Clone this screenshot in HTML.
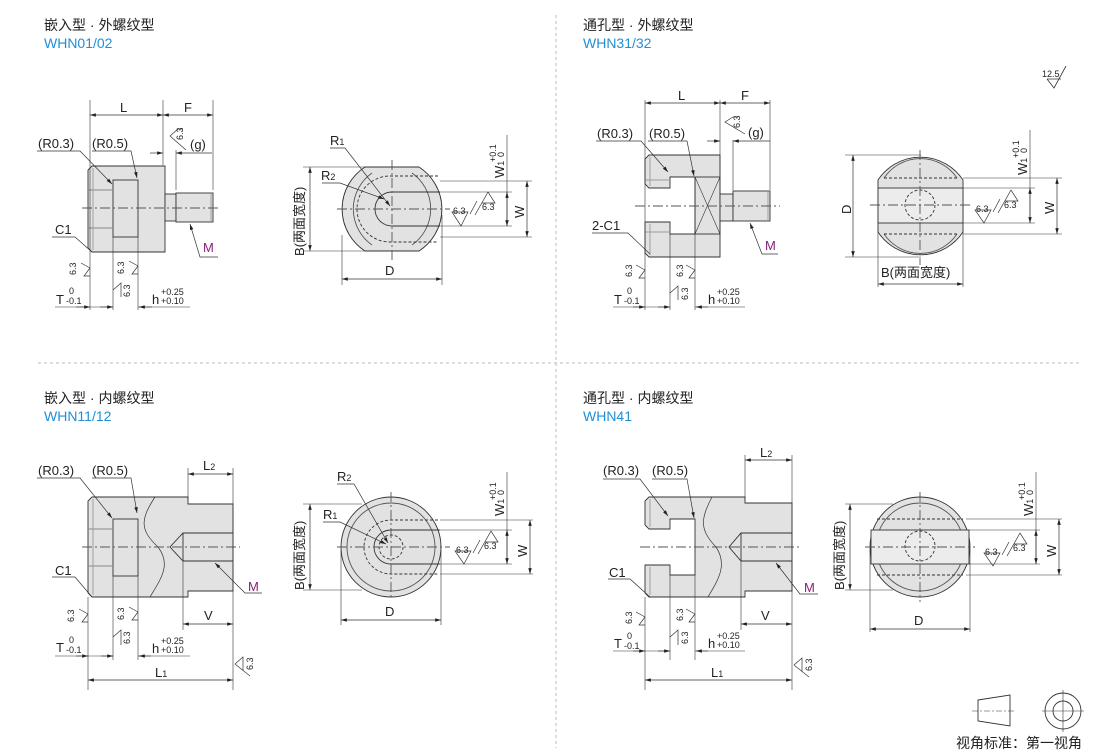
<!DOCTYPE html>
<html><head><meta charset="utf-8"><style>
html,body{margin:0;padding:0;background:#fff;}
svg{display:block;}
text{font-family:"Liberation Sans","Noto Sans CJK SC",sans-serif;fill:#222;}
.t{font-size:14px;}
.b{font-size:14px;fill:#1f8fd6;}
.s{font-size:9px;}
.d{font-size:13px;}
.m{font-size:13px;fill:#8b1e7a;}
</style></head><body>
<svg width="1110" height="756" viewBox="0 0 1110 756" xmlns="http://www.w3.org/2000/svg">
<defs>
<marker id="a" viewBox="0 0 10 6" refX="10" refY="3" markerWidth="9" markerHeight="5" orient="auto-start-reverse"><path d="M0,0L10,3L0,6z" fill="#222"/></marker>
</defs>
<g stroke="#bbb" stroke-dasharray="3,3" stroke-width="1">
<line x1="556" y1="15" x2="556" y2="748"/>
<line x1="38" y1="363" x2="1080" y2="363"/>
</g>
<text class="t" x="44" y="30">嵌入型 · 外螺纹型</text><text class="b" x="44" y="48">WHN01/02</text>
<text class="t" x="583" y="30">通孔型 · 外螺纹型</text><text class="b" x="583" y="48">WHN31/32</text>
<text class="t" x="44" y="403">嵌入型 · 内螺纹型</text><text class="b" x="44" y="421">WHN11/12</text>
<text class="t" x="583" y="403">通孔型 · 内螺纹型</text><text class="b" x="583" y="421">WHN41</text>

<!-- 12.5 symbol -->
<text class="s" x="1042" y="77">12.5</text>
<path d="M1047,79 L1054,88 L1066,66 M1047,79 H1061" stroke="#333" fill="none" stroke-width="0.8"/>

<g stroke="#333" stroke-width="0.9" fill="none">
<!-- ===== PART 1 top-left ===== -->
<path d="M92,166 H165 V252 H92 L88,248 V170 Z" fill="#e2e2e2"/>
<rect x="113" y="180" width="25" height="57" fill="#e2e2e2"/>
<line x1="88" y1="190" x2="113" y2="190" stroke="#888"/><line x1="88" y1="228" x2="113" y2="228" stroke="#888"/>
<line x1="93" y1="168" x2="93" y2="250" stroke="#999"/>
<rect x="165" y="194" width="11" height="27" fill="#e2e2e2"/>
<rect x="176" y="193" width="37" height="29" fill="#e2e2e2"/>
<line x1="211" y1="193" x2="211" y2="222" stroke="#999"/>
<line x1="82" y1="208" x2="220" y2="208" stroke-dasharray="10,3,2,3" stroke="#555"/>
<!-- dims -->
<line x1="90" y1="100" x2="90" y2="310" stroke-width="0.6"/>
<line x1="163" y1="100" x2="163" y2="165" stroke-width="0.6"/>
<line x1="213" y1="100" x2="213" y2="190" stroke-width="0.6"/>
<line x1="176" y1="150" x2="176" y2="190" stroke-width="0.6"/>
<line x1="90" y1="115" x2="163" y2="115" marker-start="url(#a)" marker-end="url(#a)" stroke-width="0.7"/>
<line x1="163" y1="115" x2="213" y2="115" marker-start="url(#a)" marker-end="url(#a)" stroke-width="0.7"/>
<line x1="150" y1="153" x2="163" y2="153" marker-end="url(#a)" stroke-width="0.7"/>
<line x1="176" y1="153" x2="212" y2="153" marker-start="url(#a)" stroke-width="0.7"/>
<line x1="113" y1="237" x2="113" y2="310" stroke-width="0.6"/>
<line x1="138" y1="237" x2="138" y2="310" stroke-width="0.6"/>
<line x1="55" y1="307" x2="113" y2="307" stroke-width="0.6"/>
<line x1="76" y1="307" x2="90" y2="307" marker-end="url(#a)" stroke-width="0.7"/>
<line x1="100" y1="307" x2="113" y2="307" marker-end="url(#a)" stroke-width="0.7"/>
<line x1="138" y1="307" x2="190" y2="307" stroke-width="0.6"/>
<line x1="152" y1="307" x2="139" y2="307" marker-end="url(#a)" stroke-width="0.7"/>
<path d="M37,151 H80 L112,184" stroke-width="0.7" marker-end="url(#a)"/>
<path d="M92,151 H131 L137,178" stroke-width="0.7" marker-end="url(#a)"/>
<path d="M52,237 H75 L92,252" stroke-width="0.7"/>
<path d="M218,257 H200 L190,224" stroke-width="0.7" marker-end="url(#a)"/>
<!-- roughness -->
<path d="M178,129 L170,136 L186,150 M178,129 H183" stroke-width="0.7"/>
<path d="M90,268 L81,263 M90,268 L84,276 H90" stroke-width="0.7"/>
<path d="M138,266 L129,261 M138,266 L132,274 H138 M113,290 L121,283 V297" stroke-width="0.7"/>
</g>
<g class="s">
<text x="0" y="0" transform="translate(183,140) rotate(-90)">6.3</text>
<text x="0" y="0" transform="translate(76,275) rotate(-90)">6.3</text>
<text x="0" y="0" transform="translate(124,274) rotate(-90)">6.3</text>
<text x="0" y="0" transform="translate(130,297) rotate(-90)">6.3</text>
</g>
<text class="d" x="120" y="112">L</text><text class="d" x="184" y="112">F</text>
<text class="d" x="190" y="149">(g)</text>
<text class="d" x="38" y="148">(R0.3)</text><text class="d" x="92" y="148">(R0.5)</text>
<text class="d" x="55" y="234">C1</text><text class="m" x="203" y="252">M</text>
<text class="d" x="56" y="304">T</text><text class="s" x="69" y="294">0</text><text class="s" x="66" y="304">-0.1</text>
<text class="d" x="152" y="304">h</text><text class="s" x="161" y="295">+0.25</text><text class="s" x="161" y="304">+0.10</text>

<!-- ===== CIRCLE 1 top ===== -->
<g stroke="#333" stroke-width="0.9" fill="none">
<path d="M365,167 H419 A50,50 0 0 1 419,251 H365 A50,50 0 0 1 365,167 Z" fill="#e2e2e2"/>
<path d="M372,173 A44,44 0 0 0 372,245 M412,173 A44,44 0 0 1 412,245" stroke="#555"/>
<path d="M440,192 H392 A17,17 0 0 0 392,226 H440"/>
<path d="M438,176 H390 A33,33 0 0 0 390,242 H438" stroke-dasharray="3,2"/>
<line x1="337" y1="209" x2="450" y2="209" stroke-dasharray="10,3,2,3" stroke="#555"/>
<line x1="392" y1="160" x2="392" y2="262" stroke-dasharray="10,3,2,3" stroke="#555"/>
<line x1="342" y1="235" x2="342" y2="285" stroke-width="0.6"/>
<line x1="442" y1="215" x2="442" y2="285" stroke-width="0.6"/>
<line x1="342" y1="279" x2="442" y2="279" marker-start="url(#a)" marker-end="url(#a)" stroke-width="0.7"/>
<line x1="303" y1="167" x2="366" y2="167" stroke-width="0.6"/><line x1="303" y1="251" x2="366" y2="251" stroke-width="0.6"/>
<line x1="310" y1="167" x2="310" y2="251" marker-start="url(#a)" marker-end="url(#a)" stroke-width="0.7"/>
<path d="M330,148 H345 L390,206" stroke-width="0.7" marker-end="url(#a)"/>
<path d="M322,183 H340 L384,199" stroke-width="0.7" marker-end="url(#a)"/>
<line x1="440" y1="181" x2="532" y2="181" stroke-width="0.6"/><line x1="440" y1="237" x2="532" y2="237" stroke-width="0.6"/>
<line x1="440" y1="192" x2="512" y2="192" stroke-width="0.6"/><line x1="440" y1="226" x2="512" y2="226" stroke-width="0.6"/>
<line x1="507" y1="135" x2="507" y2="226" stroke-width="0.6"/>
<line x1="507" y1="192" x2="507" y2="226" marker-start="url(#a)" marker-end="url(#a)" stroke-width="0.7"/>
<line x1="527" y1="181" x2="527" y2="237" marker-start="url(#a)" marker-end="url(#a)" stroke-width="0.7"/>
<path d="M452,212 H468 L461,226 Z M470,214 L477,201 M475,215 L488,192 L495,203 H482" stroke-width="0.7"/>
</g>
<text class="s" x="453" y="214">6.3</text><text class="s" x="482" y="210">6.3</text>
<text class="d" x="385" y="275">D</text>
<text class="d" transform="translate(304,256) rotate(-90)">B(两面宽度)</text>
<text class="d" x="330" y="145">R<tspan font-size="9">1</tspan></text>
<text class="d" x="321" y="180">R<tspan font-size="9">2</tspan></text>
<text class="d" transform="translate(504,178) rotate(-90)">W<tspan font-size="9">1</tspan></text>
<text class="s" transform="translate(496,162) rotate(-90)">+0.1</text><text class="s" transform="translate(504,157) rotate(-90)">0</text>
<text class="d" transform="translate(524,218) rotate(-90)">W</text>

<!-- ===== PART 2 top-right ===== -->
<g stroke="#333" stroke-width="0.9" fill="none">
<path d="M649,155 H720 V257 H649 L645,253 V222 H670 V234 H695 V177 H670 V188 H649 L645,184 V159 Z" fill="#e2e2e2"/>
<line x1="650" y1="157" x2="650" y2="186" stroke="#999"/><line x1="650" y1="224" x2="650" y2="255" stroke="#999"/>
<line x1="645" y1="180" x2="670" y2="180" stroke="#999"/><line x1="645" y1="232" x2="670" y2="232" stroke="#999"/>
<rect x="695" y="177" width="25" height="57"/>
<path d="M695,177 L720,234 M720,177 L695,234" stroke-width="0.6"/>
<rect x="720" y="194" width="13" height="27" fill="#e2e2e2"/>
<rect x="733" y="191" width="37" height="30" fill="#e2e2e2"/>
<line x1="768" y1="191" x2="768" y2="221" stroke="#999"/>
<line x1="635" y1="206" x2="780" y2="206" stroke-dasharray="10,3,2,3" stroke="#555"/>
<line x1="645" y1="100" x2="645" y2="310" stroke-width="0.6"/>
<line x1="720" y1="100" x2="720" y2="175" stroke-width="0.6"/>
<line x1="770" y1="100" x2="770" y2="190" stroke-width="0.6"/>
<line x1="733" y1="140" x2="733" y2="190" stroke-width="0.6"/>
<line x1="645" y1="103" x2="720" y2="103" marker-start="url(#a)" marker-end="url(#a)" stroke-width="0.7"/>
<line x1="720" y1="103" x2="770" y2="103" marker-start="url(#a)" marker-end="url(#a)" stroke-width="0.7"/>
<line x1="707" y1="141" x2="720" y2="141" marker-end="url(#a)" stroke-width="0.7"/>
<line x1="733" y1="141" x2="770" y2="141" marker-start="url(#a)" stroke-width="0.7"/>
<line x1="670" y1="234" x2="670" y2="310" stroke-width="0.6"/>
<line x1="695" y1="234" x2="695" y2="310" stroke-width="0.6"/>
<line x1="613" y1="307" x2="670" y2="307" stroke-width="0.6"/>
<line x1="633" y1="307" x2="645" y2="307" marker-end="url(#a)" stroke-width="0.7"/>
<line x1="658" y1="307" x2="670" y2="307" marker-end="url(#a)" stroke-width="0.7"/>
<line x1="695" y1="307" x2="745" y2="307" stroke-width="0.6"/>
<line x1="708" y1="307" x2="696" y2="307" marker-end="url(#a)" stroke-width="0.7"/>
<path d="M596,141 H641 L668,172" stroke-width="0.7" marker-end="url(#a)"/>
<path d="M648,141 H687 L694,176" stroke-width="0.7" marker-end="url(#a)"/>
<path d="M592,233 H628 L650,254" stroke-width="0.7"/>
<path d="M778,254 H762 L750,223" stroke-width="0.7" marker-end="url(#a)"/>
<path d="M733,117 L725,122 L745,134 M733,117 H738" stroke-width="0.7"/>
<path d="M645,270 L636,265 M645,270 L639,278 H645" stroke-width="0.7"/>
<path d="M695,270 L686,265 M695,270 L689,278 H695 M670,293 L678,286 V300" stroke-width="0.7"/>
</g>
<g class="s">
<text transform="translate(740,128) rotate(-90)">6.3</text>
<text transform="translate(632,277) rotate(-90)">6.3</text>
<text transform="translate(683,277) rotate(-90)">6.3</text>
<text transform="translate(688,300) rotate(-90)">6.3</text>
</g>
<text class="d" x="678" y="100">L</text><text class="d" x="741" y="100">F</text>
<text class="d" x="748" y="137">(g)</text>
<text class="d" x="597" y="138">(R0.3)</text><text class="d" x="649" y="138">(R0.5)</text>
<text class="d" x="592" y="230">2-C1</text><text class="m" x="765" y="250">M</text>
<text class="d" x="614" y="304">T</text><text class="s" x="627" y="294">0</text><text class="s" x="624" y="304">-0.1</text>
<text class="d" x="708" y="304">h</text><text class="s" x="717" y="295">+0.25</text><text class="s" x="717" y="304">+0.10</text>

<!-- ===== CIRCLE 2 top ===== -->
<g stroke="#333" stroke-width="0.9" fill="none">
<path d="M878,180 A51,51 0 0 1 963,180 V232 A51,51 0 0 1 878,232 Z" fill="#e2e2e2"/>
<path d="M884,178 A44,44 0 0 1 957,178 M884,234 A44,44 0 0 0 957,234" stroke="#555"/>
<rect x="878" y="188" width="85" height="35" fill="#ececec"/>
<line x1="884" y1="178" x2="957" y2="178" stroke-dasharray="3,2"/><line x1="884" y1="234" x2="957" y2="234" stroke-dasharray="3,2"/>
<circle cx="920" cy="205" r="15" stroke-dasharray="3,2"/>
<line x1="870" y1="205" x2="970" y2="205" stroke-dasharray="10,3,2,3" stroke="#555"/>
<line x1="920" y1="150" x2="920" y2="265" stroke-dasharray="10,3,2,3" stroke="#555"/>
<line x1="845" y1="155" x2="921" y2="155" stroke-width="0.6"/><line x1="845" y1="257" x2="921" y2="257" stroke-width="0.6"/>
<line x1="853" y1="155" x2="853" y2="257" marker-start="url(#a)" marker-end="url(#a)" stroke-width="0.7"/>
<line x1="878" y1="230" x2="878" y2="287" stroke-width="0.6"/><line x1="963" y1="230" x2="963" y2="287" stroke-width="0.6"/>
<line x1="878" y1="284" x2="963" y2="284" marker-start="url(#a)" marker-end="url(#a)" stroke-width="0.7"/>
<line x1="963" y1="178" x2="1062" y2="178" stroke-width="0.6"/><line x1="963" y1="234" x2="1062" y2="234" stroke-width="0.6"/>
<line x1="963" y1="188" x2="1035" y2="188" stroke-width="0.6"/><line x1="963" y1="223" x2="1035" y2="223" stroke-width="0.6"/>
<line x1="1030" y1="130" x2="1030" y2="223" stroke-width="0.6"/>
<line x1="1030" y1="188" x2="1030" y2="223" marker-start="url(#a)" marker-end="url(#a)" stroke-width="0.7"/>
<line x1="1057" y1="178" x2="1057" y2="234" marker-start="url(#a)" marker-end="url(#a)" stroke-width="0.7"/>
<path d="M975,210 H991 L984,223 Z M993,212 L1000,199 M998,213 L1011,190 L1018,201 H1005" stroke-width="0.7"/>
</g>
<text class="s" x="976" y="212">6.3</text><text class="s" x="1004" y="208">6.3</text>
<text class="d" transform="translate(851,214) rotate(-90)">D</text>
<text class="d" x="881" y="277">B(两面宽度)</text>
<text class="d" transform="translate(1027,175) rotate(-90)">W<tspan font-size="9">1</tspan></text>
<text class="s" transform="translate(1019,158) rotate(-90)">+0.1</text><text class="s" transform="translate(1027,153) rotate(-90)">0</text>
<text class="d" transform="translate(1054,214) rotate(-90)">W</text>

<!-- ===== PART 3 bottom-left ===== -->
<g stroke="#333" stroke-width="0.9" fill="none">
<path d="M92,497 H188 V504 H233 V591 H188 V597 H92 L88,593 V501 Z" fill="#e2e2e2"/>
<rect x="113" y="519" width="25" height="57" fill="#e2e2e2"/>
<line x1="88" y1="529" x2="113" y2="529" stroke="#888"/><line x1="88" y1="566" x2="113" y2="566" stroke="#888"/>
<line x1="93" y1="499" x2="93" y2="595" stroke="#999"/>
<path d="M155,497 C140,520 140,530 158,547 C172,565 160,580 150,597" stroke-width="0.7"/>
<path d="M233,533 H183 L170,547 L183,561 H233 M183,533 V561" />
<line x1="82" y1="547" x2="240" y2="547" stroke-dasharray="10,3,2,3" stroke="#555"/>
<line x1="188" y1="468" x2="188" y2="500" stroke-width="0.6"/>
<line x1="233" y1="468" x2="233" y2="690" stroke-width="0.6"/>
<line x1="188" y1="474" x2="233" y2="474" marker-start="url(#a)" marker-end="url(#a)" stroke-width="0.7"/>
<line x1="183" y1="561" x2="183" y2="630" stroke-width="0.6"/>
<line x1="183" y1="624" x2="233" y2="624" marker-start="url(#a)" marker-end="url(#a)" stroke-width="0.7"/>
<line x1="88" y1="597" x2="88" y2="690" stroke-width="0.6"/>
<line x1="88" y1="680" x2="233" y2="680" marker-start="url(#a)" marker-end="url(#a)" stroke-width="0.7"/>
<line x1="113" y1="576" x2="113" y2="660" stroke-width="0.6"/>
<line x1="138" y1="576" x2="138" y2="660" stroke-width="0.6"/>
<line x1="55" y1="656" x2="113" y2="656" stroke-width="0.6"/>
<line x1="76" y1="656" x2="88" y2="656" marker-end="url(#a)" stroke-width="0.7"/>
<line x1="101" y1="656" x2="113" y2="656" marker-end="url(#a)" stroke-width="0.7"/>
<line x1="138" y1="656" x2="190" y2="656" stroke-width="0.6"/>
<line x1="151" y1="656" x2="139" y2="656" marker-end="url(#a)" stroke-width="0.7"/>
<path d="M37,478 H80 L112,518" stroke-width="0.7" marker-end="url(#a)"/>
<path d="M92,478 H131 L137,513" stroke-width="0.7" marker-end="url(#a)"/>
<path d="M52,577 H75 L92,597" stroke-width="0.7"/>
<path d="M262,593 H245 L215,563" stroke-width="0.7" marker-end="url(#a)"/>
<path d="M88,614 L79,609 M88,614 L82,622 H88" stroke-width="0.7"/>
<path d="M138,612 L129,607 M138,612 L132,620 H138 M113,637 L121,630 V645" stroke-width="0.7"/>
<path d="M235,664 L243,657 V671 M235,664 L250,676" stroke-width="0.7"/>
</g>
<g class="s">
<text transform="translate(74,622) rotate(-90)">6.3</text>
<text transform="translate(124,620) rotate(-90)">6.3</text>
<text transform="translate(130,644) rotate(-90)">6.3</text>
<text transform="translate(253,670) rotate(-90)">6.3</text>
</g>
<text class="d" x="203" y="470">L<tspan font-size="9">2</tspan></text>
<text class="d" x="204" y="620">V</text>
<text class="d" x="155" y="677">L<tspan font-size="9">1</tspan></text>
<text class="d" x="38" y="475">(R0.3)</text><text class="d" x="92" y="475">(R0.5)</text>
<text class="d" x="55" y="575">C1</text><text class="m" x="248" y="591">M</text>
<text class="d" x="56" y="652">T</text><text class="s" x="69" y="643">0</text><text class="s" x="66" y="653">-0.1</text>
<text class="d" x="152" y="653">h</text><text class="s" x="161" y="644">+0.25</text><text class="s" x="161" y="653">+0.10</text>

<!-- ===== CIRCLE 3 bottom ===== -->
<g stroke="#333" stroke-width="0.9" fill="none">
<circle cx="391" cy="547" r="50" fill="#e2e2e2"/>
<circle cx="391" cy="547" r="44" stroke="#555"/>
<path d="M440,530 H391 A17,17 0 0 0 391,564 H440"/>
<path d="M438,520 H391 A27,27 0 0 0 391,574 H438" stroke-dasharray="3,2"/>
<circle cx="391" cy="547" r="12" stroke-dasharray="3,2"/>
<line x1="337" y1="547" x2="450" y2="547" stroke-dasharray="10,3,2,3" stroke="#555"/>
<line x1="391" y1="492" x2="391" y2="600" stroke-dasharray="10,3,2,3" stroke="#555"/>
<line x1="341" y1="550" x2="341" y2="625" stroke-width="0.6"/><line x1="441" y1="550" x2="441" y2="625" stroke-width="0.6"/>
<line x1="341" y1="620" x2="441" y2="620" marker-start="url(#a)" marker-end="url(#a)" stroke-width="0.7"/>
<line x1="303" y1="504" x2="362" y2="504" stroke-width="0.6"/><line x1="303" y1="590" x2="362" y2="590" stroke-width="0.6"/>
<line x1="310" y1="504" x2="310" y2="590" marker-start="url(#a)" marker-end="url(#a)" stroke-width="0.7"/>
<path d="M337,484 H354 L388,543" stroke-width="0.7" marker-end="url(#a)"/>
<path d="M323,522 H340 L386,544" stroke-width="0.7" marker-end="url(#a)"/>
<line x1="440" y1="520" x2="533" y2="520" stroke-width="0.6"/><line x1="440" y1="574" x2="533" y2="574" stroke-width="0.6"/>
<line x1="440" y1="530" x2="512" y2="530" stroke-width="0.6"/><line x1="440" y1="564" x2="512" y2="564" stroke-width="0.6"/>
<line x1="507" y1="472" x2="507" y2="564" stroke-width="0.6"/>
<line x1="507" y1="530" x2="507" y2="564" marker-start="url(#a)" marker-end="url(#a)" stroke-width="0.7"/>
<line x1="530" y1="520" x2="530" y2="574" marker-start="url(#a)" marker-end="url(#a)" stroke-width="0.7"/>
<path d="M455,551 H471 L464,564 Z M473,553 L480,540 M478,554 L491,531 L498,542 H485" stroke-width="0.7"/>
</g>
<text class="s" x="456" y="553">6.3</text><text class="s" x="484" y="549">6.3</text>
<text class="d" x="385" y="616">D</text>
<text class="d" transform="translate(304,590) rotate(-90)">B(两面宽度)</text>
<text class="d" x="337" y="481">R<tspan font-size="9">2</tspan></text>
<text class="d" x="323" y="519">R<tspan font-size="9">1</tspan></text>
<text class="d" transform="translate(504,516) rotate(-90)">W<tspan font-size="9">1</tspan></text>
<text class="s" transform="translate(496,500) rotate(-90)">+0.1</text><text class="s" transform="translate(504,495) rotate(-90)">0</text>
<text class="d" transform="translate(527,557) rotate(-90)">W</text>

<!-- ===== PART 4 bottom-right ===== -->
<g stroke="#333" stroke-width="0.9" fill="none">
<path d="M649,497 H745 V503 H792 V591 H745 V597 H649 L645,593 V565 H670 V575 H695 V519 H670 V529 H649 L645,525 V501 Z" fill="#e2e2e2"/>
<line x1="650" y1="499" x2="650" y2="527" stroke="#999"/><line x1="650" y1="567" x2="650" y2="595" stroke="#999"/>
<path d="M712,497 C700,520 700,530 716,547 C728,565 718,580 708,597" stroke-width="0.7"/>
<path d="M792,533 H741 L729,547 L741,561 H792 M741,533 V561"/>
<line x1="640" y1="547" x2="800" y2="547" stroke-dasharray="10,3,2,3" stroke="#555"/>
<line x1="745" y1="455" x2="745" y2="500" stroke-width="0.6"/>
<line x1="792" y1="455" x2="792" y2="690" stroke-width="0.6"/>
<line x1="745" y1="460" x2="792" y2="460" marker-start="url(#a)" marker-end="url(#a)" stroke-width="0.7"/>
<line x1="741" y1="561" x2="741" y2="630" stroke-width="0.6"/>
<line x1="741" y1="624" x2="792" y2="624" marker-start="url(#a)" marker-end="url(#a)" stroke-width="0.7"/>
<line x1="645" y1="597" x2="645" y2="690" stroke-width="0.6"/>
<line x1="645" y1="680" x2="792" y2="680" marker-start="url(#a)" marker-end="url(#a)" stroke-width="0.7"/>
<line x1="670" y1="575" x2="670" y2="660" stroke-width="0.6"/>
<line x1="695" y1="575" x2="695" y2="660" stroke-width="0.6"/>
<line x1="613" y1="651" x2="670" y2="651" stroke-width="0.6"/>
<line x1="633" y1="651" x2="645" y2="651" marker-end="url(#a)" stroke-width="0.7"/>
<line x1="658" y1="651" x2="670" y2="651" marker-end="url(#a)" stroke-width="0.7"/>
<line x1="695" y1="651" x2="745" y2="651" stroke-width="0.6"/>
<line x1="708" y1="651" x2="696" y2="651" marker-end="url(#a)" stroke-width="0.7"/>
<path d="M603,479 H640 L668,516" stroke-width="0.7" marker-end="url(#a)"/>
<path d="M652,479 H687 L694,518" stroke-width="0.7" marker-end="url(#a)"/>
<path d="M608,579 H630 L650,597" stroke-width="0.7"/>
<path d="M818,594 H800 L776,563" stroke-width="0.7" marker-end="url(#a)"/>
<path d="M645,617 L636,612 M645,617 L639,625 H645" stroke-width="0.7"/>
<path d="M695,614 L686,609 M695,614 L689,622 H695 M670,637 L678,630 V645" stroke-width="0.7"/>
<path d="M794,665 L802,658 V672 M794,665 L809,677" stroke-width="0.7"/>
</g>
<g class="s">
<text transform="translate(632,624) rotate(-90)">6.3</text>
<text transform="translate(683,621) rotate(-90)">6.3</text>
<text transform="translate(688,644) rotate(-90)">6.3</text>
<text transform="translate(812,671) rotate(-90)">6.3</text>
</g>
<text class="d" x="760" y="457">L<tspan font-size="9">2</tspan></text>
<text class="d" x="761" y="620">V</text>
<text class="d" x="711" y="677">L<tspan font-size="9">1</tspan></text>
<text class="d" x="603" y="475">(R0.3)</text><text class="d" x="652" y="475">(R0.5)</text>
<text class="d" x="609" y="577">C1</text><text class="m" x="804" y="592">M</text>
<text class="d" x="614" y="648">T</text><text class="s" x="627" y="639">0</text><text class="s" x="624" y="649">-0.1</text>
<text class="d" x="708" y="648">h</text><text class="s" x="717" y="639">+0.25</text><text class="s" x="717" y="648">+0.10</text>

<!-- ===== CIRCLE 4 bottom ===== -->
<g stroke="#333" stroke-width="0.9" fill="none">
<circle cx="920" cy="547" r="50" fill="#e2e2e2"/>
<circle cx="920" cy="547" r="44" stroke="#555"/>
<rect x="871" y="530" width="98" height="34" fill="#ececec"/>
<line x1="877" y1="519" x2="963" y2="519" stroke-dasharray="3,2"/><line x1="877" y1="575" x2="963" y2="575" stroke-dasharray="3,2"/>
<circle cx="920" cy="546" r="15" stroke-dasharray="3,2"/>
<line x1="865" y1="547" x2="975" y2="547" stroke-dasharray="10,3,2,3" stroke="#555"/>
<line x1="920" y1="492" x2="920" y2="602" stroke-dasharray="10,3,2,3" stroke="#555"/>
<line x1="870" y1="550" x2="870" y2="632" stroke-width="0.6"/><line x1="970" y1="550" x2="970" y2="632" stroke-width="0.6"/>
<line x1="870" y1="629" x2="970" y2="629" marker-start="url(#a)" marker-end="url(#a)" stroke-width="0.7"/>
<line x1="845" y1="504" x2="893" y2="504" stroke-width="0.6"/><line x1="845" y1="590" x2="893" y2="590" stroke-width="0.6"/>
<line x1="850" y1="504" x2="850" y2="590" marker-start="url(#a)" marker-end="url(#a)" stroke-width="0.7"/>
<line x1="966" y1="519" x2="1062" y2="519" stroke-width="0.6"/><line x1="966" y1="575" x2="1062" y2="575" stroke-width="0.6"/>
<line x1="968" y1="530" x2="1040" y2="530" stroke-width="0.6"/><line x1="968" y1="564" x2="1040" y2="564" stroke-width="0.6"/>
<line x1="1036" y1="472" x2="1036" y2="564" stroke-width="0.6"/>
<line x1="1036" y1="530" x2="1036" y2="564" marker-start="url(#a)" marker-end="url(#a)" stroke-width="0.7"/>
<line x1="1059" y1="519" x2="1059" y2="575" marker-start="url(#a)" marker-end="url(#a)" stroke-width="0.7"/>
<path d="M984,553 H1000 L993,566 Z M1002,555 L1009,542 M1007,556 L1020,533 L1027,544 H1014" stroke-width="0.7"/>
</g>
<text class="s" x="985" y="555">6.3</text><text class="s" x="1013" y="551">6.3</text>
<text class="d" x="914" y="625">D</text>
<text class="d" transform="translate(844,590) rotate(-90)">B(两面宽度)</text>
<text class="d" transform="translate(1033,516) rotate(-90)">W<tspan font-size="9">1</tspan></text>
<text class="s" transform="translate(1025,500) rotate(-90)">+0.1</text><text class="s" transform="translate(1033,495) rotate(-90)">0</text>
<text class="d" transform="translate(1056,557) rotate(-90)">W</text>

<!-- legend -->
<g stroke="#333" stroke-width="0.9" fill="none">
<path d="M978,700 L1010,695 V726 L978,721 Z"/>
<line x1="972" y1="711" x2="1015" y2="711" stroke-dasharray="6,2,2,2" stroke-width="0.6"/>
<circle cx="1063" cy="711" r="18"/><circle cx="1063" cy="711" r="10"/>
<line x1="1042" y1="711" x2="1084" y2="711" stroke-width="0.6"/><line x1="1063" y1="690" x2="1063" y2="732" stroke-width="0.6"/>
</g>
<text class="t" x="956" y="748">视角标准：第一视角</text>
</svg>
</body></html>
